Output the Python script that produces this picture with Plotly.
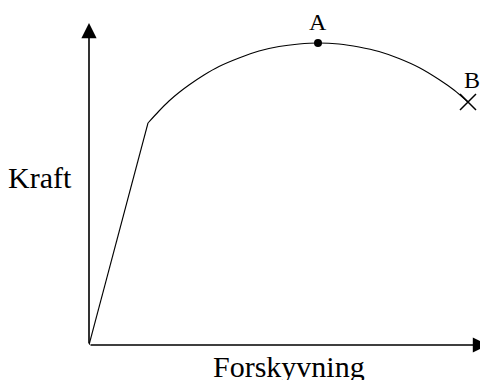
import plotly.graph_objects as go

# Elastic part: origin to knee
line_x = [0, 59]
line_y = [0, 222]
# Rounded part: knee through A to B
arc_x = [59, 70, 80, 90, 100, 115, 130, 150, 170, 190, 210, 229, 250, 270, 290, 310, 330, 350, 365, 379]
arc_y = [222, 234, 244, 252.5, 260, 270, 278.5, 287, 294, 298.5, 301, 302, 301, 298, 293.5, 286.5, 277.5, 265.5, 255, 243]

point_a = (229, 302)
point_b = (379, 243)
x_max = 399
y_max = 322

label_a = "A"
label_b = "B"
label_x = "Forskyvning"
label_y = "Kraft"

FONT = "Liberation Serif"
OFF = 8  # browser default body margin

fig = go.Figure()
fig.add_trace(go.Scatter(x=line_x, y=line_y, mode="lines",
                         line=dict(color="black", width=1.1),
                         hoverinfo="skip", showlegend=False))
fig.add_trace(go.Scatter(x=arc_x, y=arc_y, mode="lines",
                         line=dict(color="black", width=1.1, shape="spline", smoothing=0.8),
                         hoverinfo="skip", showlegend=False))
fig.add_trace(go.Scatter(x=[point_a[0]], y=[point_a[1]], mode="markers",
                         marker=dict(color="black", size=8, symbol="circle"),
                         showlegend=False))
fig.add_trace(go.Scatter(x=[point_b[0]], y=[point_b[1]], mode="markers",
                         marker=dict(color="black", size=16, symbol="x-thin",
                                     line=dict(color="black", width=1.5)),
                         showlegend=False))

# axes with arrows
for hx, hy in [(0, y_max), (x_max, 0)]:
    fig.add_annotation(x=hx, y=hy, ax=0, ay=0, xref="x", yref="y", axref="x", ayref="y",
                       showarrow=True, arrowhead=2, arrowsize=1.9, arrowwidth=1.6,
                       arrowcolor="black", text="", standoff=0, startstandoff=0)

fig.add_annotation(x=point_a[0], y=point_a[1] + 6, xref="x", yref="y", text=label_a,
                   showarrow=False, yanchor="bottom", xanchor="center",
                   font=dict(family=FONT, size=24, color="black"))
fig.add_annotation(x=point_b[0] + 4, y=point_b[1] + 7, xref="x", yref="y", text=label_b,
                   showarrow=False, yanchor="bottom", xanchor="center",
                   font=dict(family=FONT, size=24, color="black"))
fig.add_annotation(x=(289 - 89) / x_max, y=-3 / y_max, xref="paper", yref="paper", text=label_x,
                   showarrow=False, yanchor="top", xanchor="center",
                   font=dict(family=FONT, size=30, color="black"))
fig.add_annotation(x=(40 - 89) / x_max, y=(345 - 177) / y_max, xref="paper", yref="paper", text=label_y,
                   showarrow=False, yanchor="middle", xanchor="center",
                   font=dict(family=FONT, size=30, color="black"))

fig.update_xaxes(range=[0, x_max], visible=False)
fig.update_yaxes(range=[0, y_max], visible=False)
fig.update_layout(width=488 - OFF, height=380 - OFF,
                  margin=dict(l=89 - OFF, r=0, t=23 - OFF, b=35),
                  plot_bgcolor="white", paper_bgcolor="white")

fig.write_html("out.html")
